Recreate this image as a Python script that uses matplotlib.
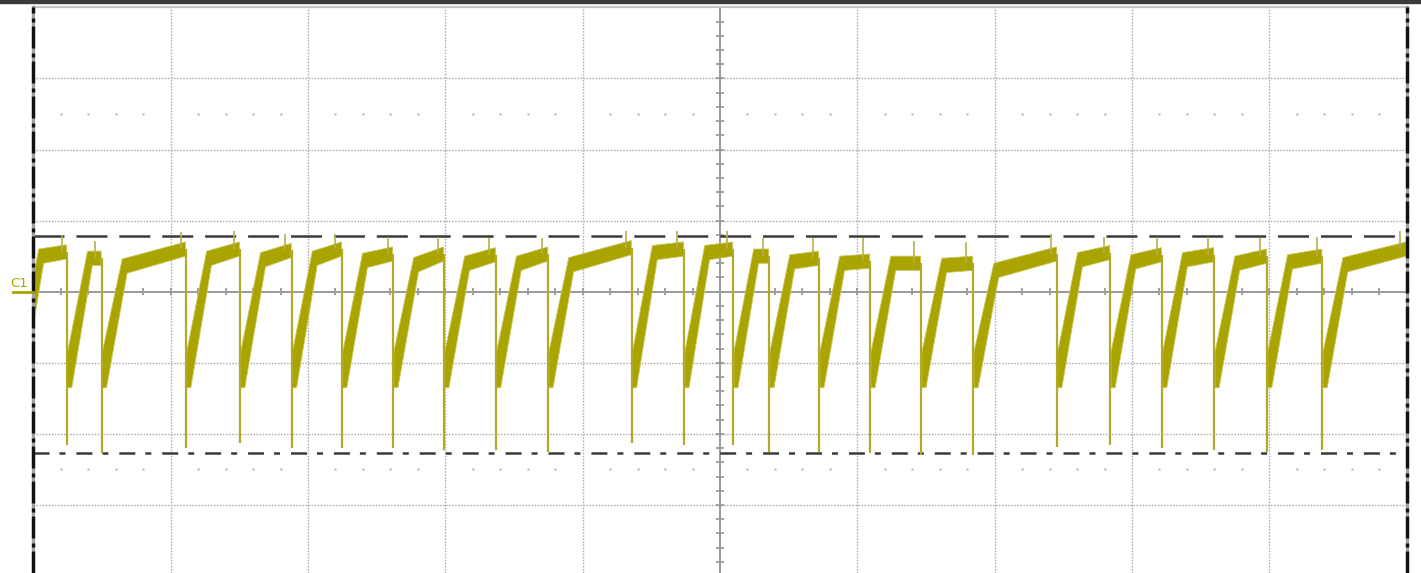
import numpy as np
import matplotlib
matplotlib.use("Agg")
import matplotlib.pyplot as plt
from matplotlib.patches import Rectangle, Polygon
from matplotlib.lines import Line2D

plt.rcParams["lines.scale_dashes"] = False

# --- trace readings, in graticule divisions (x: 0..10, y: -4..4) ---
# times where the trace falls off its plateau
drop_x = [0.245, 0.498, 1.112, 1.505, 1.882, 2.248, 2.620, 2.991, 3.368, 3.749,
          4.358, 4.739, 5.096, 5.358, 5.722, 6.094, 6.465, 6.844, 7.454, 7.842,
          8.218, 8.599, 8.983, 9.386]
# lowest point of each fall
drop_low = [-2.16, -2.27, -2.20, -2.13, -2.20, -2.20, -2.20, -2.23, -2.22, -2.25,
            -2.13, -2.16, -2.16, -2.25, -2.25, -2.27, -2.30, -2.30, -2.18, -2.16,
            -2.20, -2.22, -2.25, -2.23]
# narrow glitch just before each fall (and one at the right edge)
spike_x = [0.211, 0.449, 1.075, 1.461, 1.833, 2.197, 2.585, 2.949, 3.318, 3.702,
           4.313, 4.687, 5.049, 5.315, 5.679, 6.043, 6.415, 6.791, 7.410, 7.798,
           8.180, 8.555, 8.932, 9.345, 9.951]
spike_top = [0.80, 0.72, 0.84, 0.86, 0.81, 0.81, 0.77, 0.77, 0.75, 0.75,
             0.85, 0.85, 0.85, 0.75, 0.75, 0.75, 0.72, 0.70, 0.81, 0.77,
             0.77, 0.77, 0.76, 0.77, 0.85]
# level where the recovery ramp bends into the plateau, one per segment
knee_y = [0.50, 0.47, 0.36, 0.47, 0.45, 0.47, 0.44, 0.38, 0.40, 0.40,
          0.38, 0.55, 0.55, 0.50, 0.42, 0.40, 0.40, 0.37, 0.30, 0.45,
          0.42, 0.45, 0.40, 0.42, 0.38]
# plateau level at the end of each segment
end_y = [0.56, 0.47, 0.60, 0.60, 0.58, 0.60, 0.53, 0.53, 0.52, 0.53,
         0.62, 0.60, 0.60, 0.50, 0.47, 0.43, 0.40, 0.40, 0.53, 0.55,
         0.52, 0.52, 0.50, 0.50, 0.60]
trace_start = -0.11   # previous fall happened before the screen
trace_stop = 10.0

cursor_hi = 0.78
cursor_lo = -2.27

TRACE = "#a9a400"
GRID = "#ababab"
AXIS = "#9a9a9a"

fig = plt.figure(figsize=(14.21, 5.73), dpi=100)
ax = fig.add_axes([0.02343, 0.0, 0.96651, 0.98726])
ax.set_xlim(0, 10)
ax.set_ylim(-3.956, 4.0)
ax.axis("off")

# graticule
for gx in range(1, 10):
    if gx != 5:
        ax.axvline(gx, color=GRID, lw=1.0, ls=(0, (1.1, 1.1)), zorder=1)
for gy in range(-3, 4):
    if gy != 0:
        ax.axhline(gy, color=GRID, lw=1.0, ls=(0, (1.1, 1.1)), zorder=1)
ax.axhline(0, color=AXIS, lw=1.4, zorder=1.5)
ax.axvline(5, color=AXIS, lw=1.4, zorder=1.5)

minor_x = np.arange(0, 10.001, 0.2)
minor_y = np.arange(-4, 4.001, 0.2)
ax.vlines(minor_x, -0.05, 0.05, color=AXIS, lw=1.3, zorder=1.5)
ax.hlines(minor_y, 4.97, 5.03, color=AXIS, lw=1.3, zorder=1.5)
dot_x = [x for x in minor_x if abs(x - round(x)) > 0.01]
for dy in (2.5, -2.5):
    ax.plot(dot_x, [dy] * len(dot_x), ls="none", marker="s", ms=1.3,
            mec="none", color="#a0a0a0", zorder=1)

# cursors
ax.axhline(cursor_hi, color="#3a3a3a", lw=1.8, ls=(0, (22.3, 8.6)), zorder=2.5)
ax.axhline(cursor_lo, color="#3a3a3a", lw=1.8, ls=(0, (11.5, 7.2, 4.3, 7.9)), zorder=2.5)

# trace: one band per segment between falls
starts = [trace_start] + drop_x
stops = drop_x + [trace_stop]
h = 0.1
for s, e, k, v in zip(starts, stops, knee_y, end_y):
    top = [(s + 0.005, -0.85), (s + 0.15, k + h), (e - 0.004, v + h)]
    bot = [(e - 0.004, v - h), (s + 0.185, k - h), (s + 0.035, -1.35), (s + 0.005, -1.35)]
    ax.add_patch(Polygon(top + bot, closed=True, fc=TRACE, ec="#c9c55a",
                         lw=0.6, zorder=3))
ax.vlines(drop_x, drop_low, end_y[:-1], color="#b0aa28", lw=1.6, zorder=3)
ax.vlines(spike_x, end_y, spike_top, color="#b5b04a", lw=1.2, zorder=3)

# screen frame
ax.axhline(4.0, color="#c4c4c4", lw=1.6, zorder=5, clip_on=False)
for bx in (0, 10):
    ax.axvline(bx, color="#a0a0a0", lw=2.4, zorder=5, clip_on=False)
    ax.axvline(bx, color="#111111", lw=2.4, ls=(0, (15.8, 2.9, 2.9, 3.6)),
               zorder=6, clip_on=False)

fig.patches.append(Rectangle((0, 1 - 3 / 573), 1, 3 / 573,
                             transform=fig.transFigure, color="#3a3a3a"))

# channel marker
fig.text(19.5 / 1421, 1 - 287 / 573, "C1", color=TRACE, fontsize=9.5,
         ha="center", va="baseline")
fig.add_artist(Line2D([13 / 1421, 33 / 1421], [1 - 292 / 573] * 2,
                      color=TRACE, lw=2))

fig.savefig("out.png", dpi=100)
